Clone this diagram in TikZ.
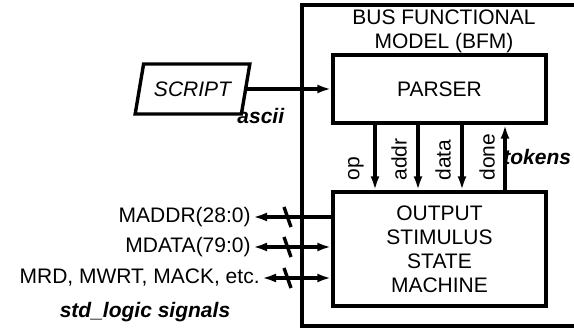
\documentclass[tikz,border=0pt]{standalone}
\usepackage{fontspec}
\setmainfont{Liberation Sans}
\usepackage{tikz}
\usetikzlibrary{positioning,calc}
\usetikzlibrary{arrows.meta,shapes.geometric}
\tikzset{
	frame/.style={draw=black,line width=1.7pt},
	blk/.style={draw=black,line width=1.7pt,inner sep=0pt,align=center,
		minimum width=106.5pt},
	script/.style={trapezium,trapezium left angle=66,trapezium right angle=114,
		trapezium stretches,draw=black,line width=1.7pt,inner sep=0pt,
		minimum width=57.5pt,minimum height=25pt,font=\fontsize{10.5}{12}\selectfont\itshape},
	sig/.style={draw=black,line width=1.7pt,-{Latex[length=7pt,width=4.5pt]}},
	sigb/.style={draw=black,line width=1.7pt,{Latex[length=7pt,width=4.5pt]}-{Latex[length=7pt,width=4.5pt]}},
	lbl/.style={inner sep=1pt},
	vlbl/.style={inner sep=0pt,rotate=90,anchor=west},
	tag/.style={inner sep=0pt,font=\fontsize{10.5}{12}\selectfont\bfseries\itshape},
}

\begin{document}
\begin{tikzpicture}[x=0.5pt,y=-0.5pt,font=\fontsize{10.5}{12}\selectfont]
	\useasboundingbox (0,0) rectangle (574,330);
	% bfm frame, its right side runs off the page
	\draw[frame] (574,5) -- (302,5) -- (302,326) -- (574,326);
	\node[align=center] (title) at (444,31) {BUS FUNCTIONAL\\MODEL (BFM)};
	\node[blk,minimum height=34pt] (parser) at (439.5,89) {PARSER};
	\node[blk,minimum height=57pt] (ossm) at (439.5,249) {OUTPUT\\STIMULUS\\STATE\\MACHINE};
	% script input
	\node[script] (script) at (192.5,89) {SCRIPT};
	\node[tag,anchor=west] (ascii) at (237,116) {ascii};
	\draw[sig] (script.east) -- (parser.west);
	% tokens between parser and state machine
	\foreach \x in {375,418,462}
	\draw[sig] (parser.south -| \x,0) -- (ossm.north -| \x,0);
	\draw[sig] (ossm.north -| 505,0) -- (parser.south -| 505,0);
	\foreach \x/\t in {356/op,399/addr,443/data,487/done}
	\node[vlbl] (l\t) at (\x,181) {\t};
	\node[tag,anchor=west] (tokens) at (503,157) {tokens};
	% std_logic signals
	\node[lbl,anchor=east] (maddr) at (253,217) {MADDR(28:0)};
	\node[lbl,anchor=east] (mdata) at (253,247) {MDATA(79:0)};
	\node[lbl,anchor=east] (mrd) at (262,278) {MRD, MWRT, MACK, etc.};
	\draw[sig] (ossm.west |- maddr.east) -- (maddr.east);
	\draw[sigb] (mdata.east) -- (ossm.west |- mdata.east);
	\draw[sigb] (mrd.east) -- (ossm.west |- mrd.east);
	\foreach \y in {217,247,278}
	\draw[frame] (284,{\y-10}) -- (291,{\y+10});
	\node[tag] (stdl) at (145,312) {std\_logic signals};
\end{tikzpicture}
\end{document}
